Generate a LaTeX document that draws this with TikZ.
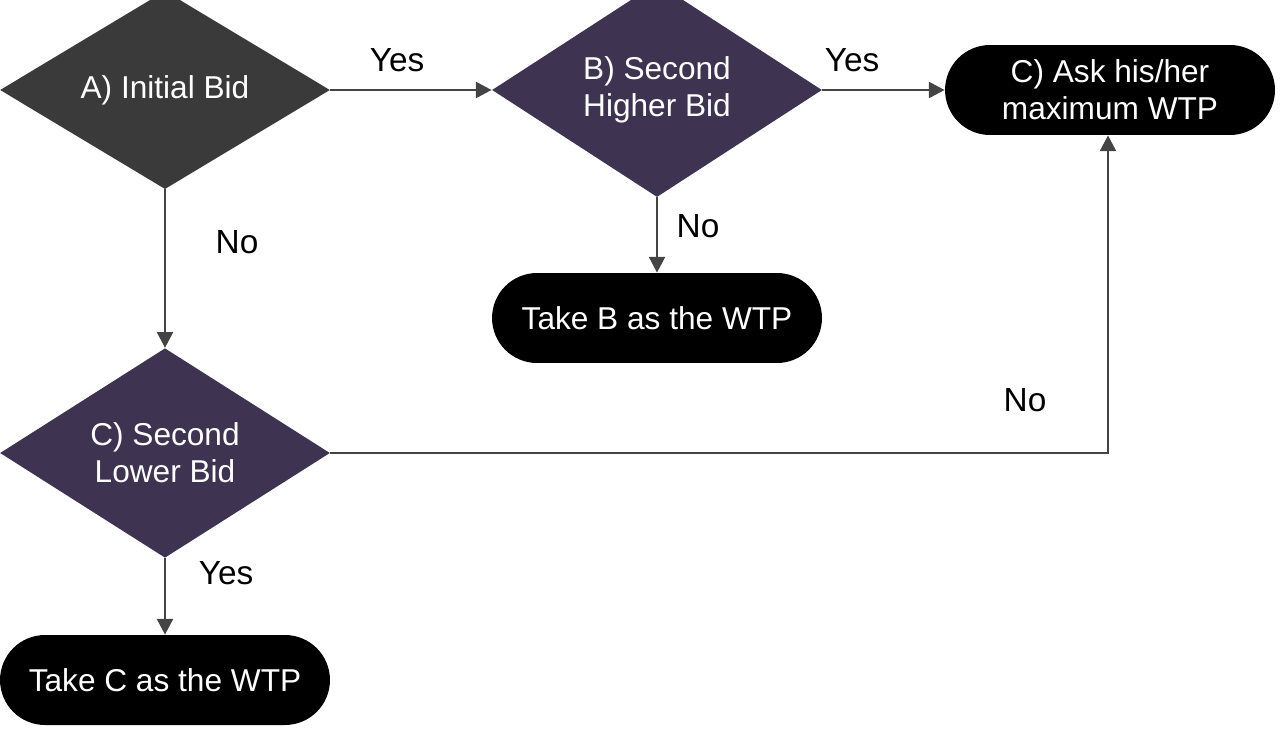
\documentclass[tikz,border=0pt]{standalone}
\usepackage{fontspec}
\setmainfont{Liberation Sans}
\usetikzlibrary{shapes.geometric,positioning,arrows.meta}
\definecolor{colorinit}{HTML}{3A3A3A}
\definecolor{colorbid}{HTML}{3E3452}
\definecolor{colorline}{HTML}{444444}
\tikzset{
  decision/.style={diamond, draw=none, inner sep=0pt, text=white,
    minimum width=6.6cm, minimum height=3.6cm, align=center,
    font=\fontsize{18}{21}\selectfont},
  terminal/.style={rounded corners=0.9cm, fill=black, text=white,
    minimum width=6.6cm, minimum height=1.8cm, align=center,
    font=\fontsize{18}{21}\selectfont},
  flow/.style={colorline, line width=1.6pt, -{Triangle[length=9pt,width=9pt]}},
  lab/.style={font=\fontsize{19}{22}\selectfont}
}
\begin{document}
\begin{tikzpicture}[x=0.02cm,y=-0.02cm]
\useasboundingbox (0,0) rectangle (1280,740);

\node[decision, fill=colorinit](a) at (165,90) {A) Initial Bid};
\node[decision, fill=colorbid](b) at (657,90) {B) Second\\Higher Bid};
\node[decision, fill=colorbid](c) at (165,453) {C) Second\\Lower Bid};

\node[terminal](ask) at (1110,90) {C) Ask his/her\\maximum WTP};
\node[terminal](tb) at (657,318) {Take B as the WTP};
\node[terminal](tc) at (165,680) {Take C as the WTP};

\coordinate (corner) at (1108,453);

\draw[flow] (a.east) -- (b.west);
\draw[flow] (b.east) -- (ask.west);
\draw[flow] (b.south) -- (tb.north);
\draw[flow] (a.south) -- (c.north);
\draw[flow] (c.south) -- (tc.north);
\draw[flow] (c.east) -- (corner) -- (corner |- ask.south);

\node[lab] (l1) at (397,60) {Yes};
\node[lab] (l2) at (852,60) {Yes};
\node[lab] (l3) at (698,226) {No};
\node[lab] (l4) at (237,242) {No};
\node[lab] (l5) at (226,573) {Yes};
\node[lab] (l6) at (1025,400) {No};
\end{tikzpicture}
\end{document}
